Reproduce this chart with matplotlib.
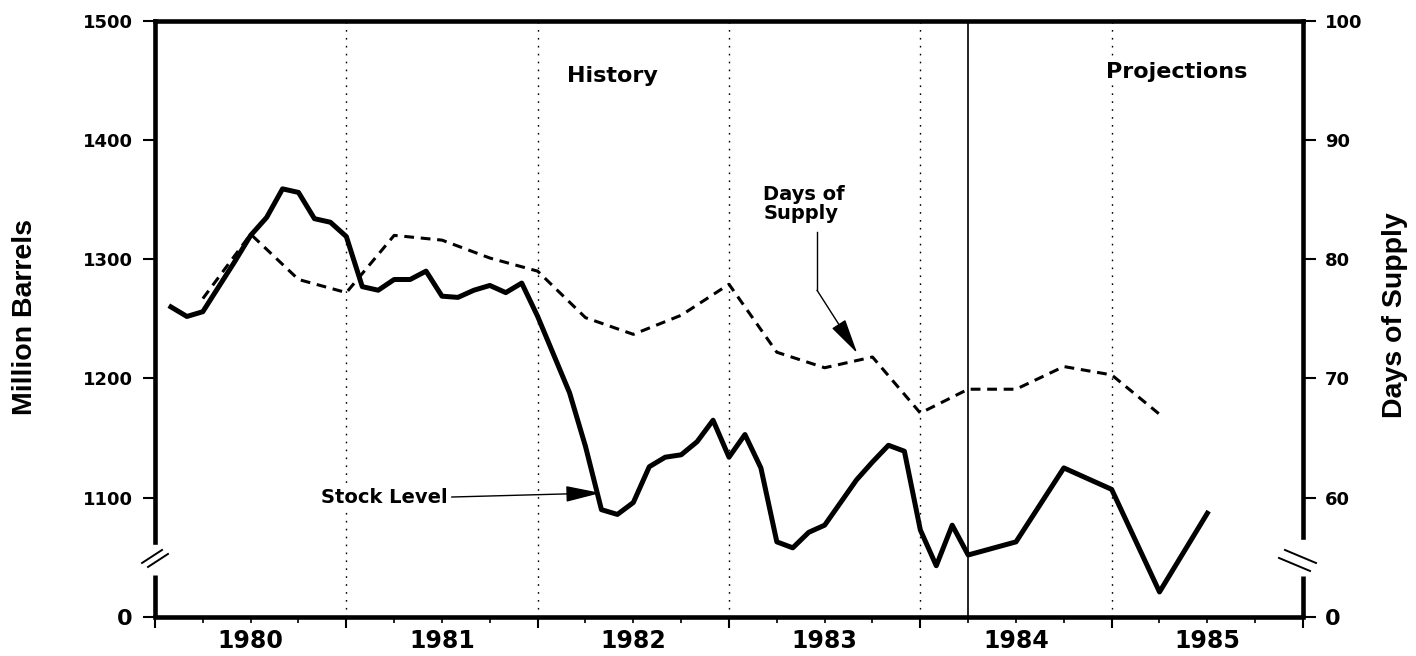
import numpy as np
import matplotlib.pyplot as plt
import matplotlib.transforms as mtransforms
from matplotlib.ticker import FuncFormatter

plt.rcParams['font.family'] = ['DejaVu Sans']
plt.rcParams['font.weight'] = 'bold'

# stock level, monthly history (end of month) Jan 1980 .. Mar 1984
stock_hist_x = 1980 + np.arange(1, 52) / 12
stock_hist = [1260, 1252, 1256, 1277, 1298, 1320, 1335, 1359, 1356, 1334, 1331, 1319,
              1277, 1274, 1283, 1283, 1290, 1269, 1268, 1274, 1278, 1272, 1280, 1252,
              1220, 1188, 1143, 1090, 1086, 1096, 1126, 1134, 1136, 1147, 1165, 1134,
              1153, 1125, 1063, 1058, 1071, 1077, 1096, 1115, 1130, 1144, 1139, 1073,
              1043, 1077, 1052]
# quarterly projections
stock_proj_x = [1984.5, 1984.75, 1985.0, 1985.25, 1985.5]
stock_proj = [1063, 1125, 1107, 1021, 1087]

# days of supply, quarterly
days_x = [1980.25, 1980.5, 1980.75, 1981.0, 1981.25, 1981.5, 1981.75, 1982.0,
          1982.25, 1982.5, 1982.75, 1983.0, 1983.25, 1983.5, 1983.75, 1984.0,
          1984.25, 1984.5, 1984.75, 1985.0, 1985.25]
days = [76.7, 82.1, 78.3, 77.2, 82.0, 81.6, 80.1, 79.0, 75.1, 73.7, 75.3, 77.9,
        72.2, 70.9, 71.8, 67.1, 69.1, 69.1, 71.0, 70.3, 67.0]

years = [1980, 1981, 1982, 1983, 1984, 1985]
left_ticks = [1000, 1100, 1200, 1300, 1400, 1500]
left_labels = ['0', '1100', '1200', '1300', '1400', '1500']
right_ticks = [50, 60, 70, 80, 90, 100]
right_labels = ['0', '60', '70', '80', '90', '100']

W, H = 1416, 656
fig = plt.figure(figsize=(W / 100, H / 100), dpi=100)
ax = fig.add_axes([155 / W, 1 - 617 / H, (1303 - 155) / W, (617 - 20.7) / H])
ax2 = ax.twinx()

ax.set_xlim(1980, 1986)
ax.set_ylim(1000, 1500)
ax2.set_ylim(50, 100)

# year dividers and history/projection split
for yr in years[1:]:
    ax.axvline(yr, color='black', lw=1.0, linestyle=(0, (1.2, 4.5)), zorder=1)
ax.axvline(1984.25, color='black', lw=1.2, zorder=1)

stock_x = list(stock_hist_x) + stock_proj_x
stock = stock_hist + stock_proj
ax.plot(stock_x, stock, color='black', lw=3.6, zorder=4)
ax2.plot(days_x, days, color='black', lw=2.2, dashes=(3.2, 2.2), zorder=4)

# x axis: year boundaries as major ticks, quarters as minor, labels mid-year
ax.set_xticks(range(1980, 1987))
ax.set_xticklabels([])
quarters = [y + q for y in range(1980, 1986) for q in (0.25, 0.5, 0.75)]
ax.set_xticks(quarters, minor=True)
ax.xaxis.set_minor_formatter(FuncFormatter(
    lambda v, p: str(int(v)) if abs(v - int(v) - 0.5) < 1e-6 else ''))
ax.tick_params(axis='x', which='major', direction='out', length=8, width=1.5)
ax.tick_params(axis='x', which='minor', direction='out', length=4, width=1.2,
               labelsize=17, pad=5)

ax.set_yticks(left_ticks)
ax.set_yticklabels(left_labels)
ax.tick_params(axis='y', direction='out', length=9, width=1.5, labelsize=13, pad=7)
ax2.set_yticks(right_ticks)
ax2.set_yticklabels(right_labels)
ax2.tick_params(axis='y', direction='out', length=9, width=1.5, labelsize=13, pad=7)
ax.get_yticklabels()[0].set_fontsize(16)
ax2.get_yticklabels()[0].set_fontsize(16)

# spines with axis breaks
for s in ax.spines.values():
    s.set_linewidth(3.3)
ax.spines['right'].set_visible(False)
for k in ['left', 'top', 'bottom']:
    ax2.spines[k].set_visible(False)
ax2.spines['right'].set_linewidth(3.3)
ax.spines['left'].set_bounds(1063, 1500)
ax2.spines['right'].set_bounds(56.7, 100)

tl = mtransforms.blended_transform_factory(ax.transAxes, ax.transData)
ax.plot([0, 0], [1000, 1035], transform=tl, color='black', lw=3.3,
        solid_capstyle='butt', clip_on=False)
tr = mtransforms.blended_transform_factory(ax2.transAxes, ax2.transData)
ax2.plot([1, 1], [50, 53.4], transform=tr, color='black', lw=3.3,
         solid_capstyle='butt', clip_on=False)

# break slashes
for dx in (0, 0.0052):
    ax.plot([-0.0113 + dx, 0.0061 + dx], [0.0906 - 0.0067 * dx / 0.0052, 0.1124 - 0.0067 * dx / 0.0052],
            transform=ax.transAxes, color='black', lw=1.4, clip_on=False)
    ax.plot([0.9843 - dx, 1.0113 - dx], [0.1124 - 0.0134 * dx / 0.0052, 0.0906 - 0.0134 * dx / 0.0052],
            transform=ax.transAxes, color='black', lw=1.4, clip_on=False)

# axis titles
lab_font = dict(fontsize=20.5, fontweight='bold',
                family=['Liberation Sans', 'DejaVu Sans'])
ax.set_ylabel('Million Barrels', **lab_font)
ax.yaxis.set_label_coords(-0.102, 0.503)
ax2.set_ylabel('Days of Supply', rotation=90, **lab_font)
ax2.yaxis.set_label_coords(1.069, 0.507)

box = dict(facecolor='white', edgecolor='none', pad=1)
ax.text(1982.39, 1454, 'History', ha='center', va='center', fontsize=16, bbox=box)
ax.text(1985.34, 1457, 'Projections', ha='center', va='center', fontsize=16, bbox=box)

ax.text(1981.53, 1100.6, 'Stock Level', ha='right', va='center', fontsize=14, bbox=box)
ax.annotate('', xy=(1982.33, 1104), xytext=(1981.55, 1100.6),
            arrowprops=dict(arrowstyle='-|>,head_length=1.1,head_width=0.25',
                            mutation_scale=20, lw=1.0, color='black',
                            shrinkA=0, shrinkB=0))

ax.text(1983.18, 1362, 'Days of\nSupply', ha='left', va='top', fontsize=14,
        linespacing=0.95)
ax.plot([1983.46, 1983.46], [1322.7, 1274], color='black', lw=1.0)
ax.annotate('', xy=(1983.67, 1221.3), xytext=(1983.46, 1274),
            arrowprops=dict(arrowstyle='-|>,head_length=1.1,head_width=0.25',
                            mutation_scale=20, lw=1.0, color='black',
                            shrinkA=0, shrinkB=0))

fig.savefig('out.png', dpi=100)
